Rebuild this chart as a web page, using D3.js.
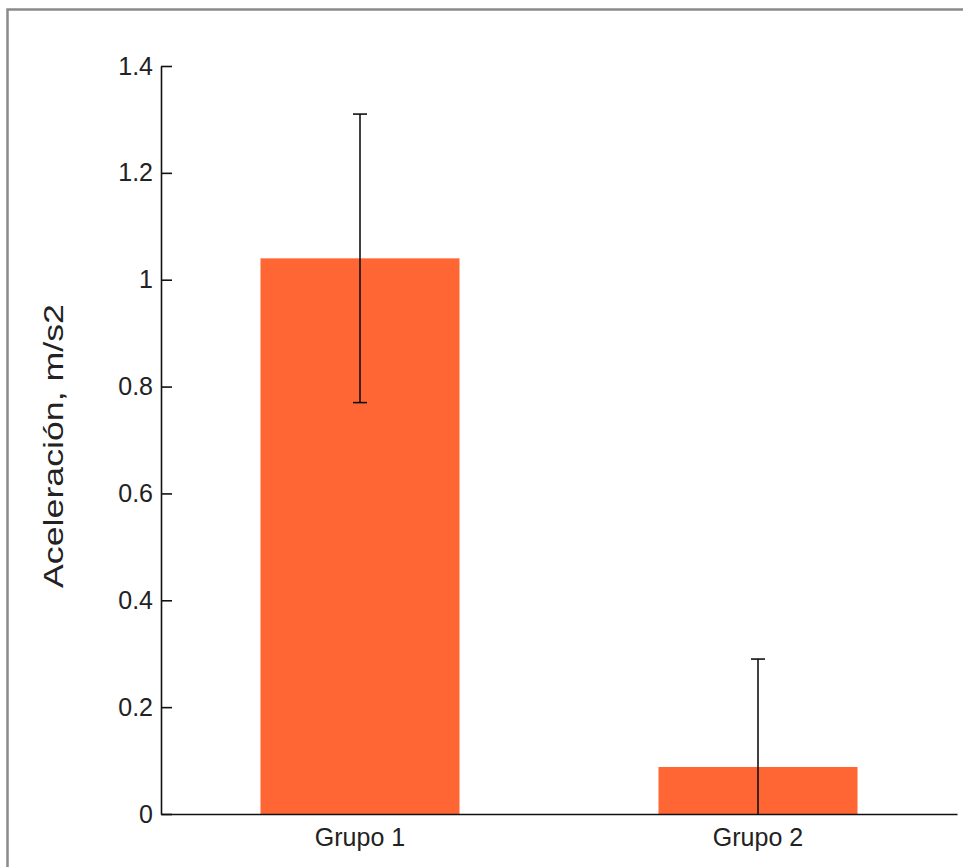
<!DOCTYPE html>
<html>
<head>
<meta charset="utf-8">
<script src="https://cdn.jsdelivr.net/npm/d3@7"></script>
<style>
  body { margin: 0; background: #fff; }
  text { font-family: Arial, "Liberation Sans", Helvetica, sans-serif; fill: #222; }
</style>
</head>
<body>
<svg id="chart"></svg>
<script>
// data
var groups = ["Grupo 1", "Grupo 2"];
var means = [1.04, 0.088];
var errLow = [0.77, 0];
var errHigh = [1.31, 0.29];
var yTicks = [0, 0.2, 0.4, 0.6, 0.8, 1, 1.2, 1.4];
var yTickLabels = ["0", "0.2", "0.4", "0.6", "0.8", "1", "1.2", "1.4"];
var yLabel = "Aceleración, m/s2";

const width = 963;
const height = 867;
const plotLeft = 161, plotRight = 957, plotTop = 66, plotBottom = 814;

var svg = d3.select("#chart")
    .attr("width", width)
    .attr("height", height);

// window frame (left + top edge only visible)
svg.append("rect")
    .attr("x", 7.5).attr("y", 9.5)
    .attr("width", width + 10).attr("height", height + 10)
    .attr("fill", "#fff")
    .attr("stroke", "#8a8a8a")
    .attr("stroke-width", 2.5);

var x = d3.scaleBand()
    .domain(groups)
    .range([plotLeft, plotRight])
    .paddingInner(0.5)
    .paddingOuter(0.25);

var y = d3.scaleLinear()
    .domain([0, 1.4])
    .range([plotBottom, plotTop]);

// bars
svg.selectAll(".bar")
    .data(groups)
    .enter().append("rect")
    .attr("class", "bar")
    .attr("x", d => x(d))
    .attr("width", x.bandwidth())
    .attr("y", (d, i) => y(means[i]))
    .attr("height", (d, i) => y(0) - y(means[i]))
    .attr("fill", "#ff6633");

// error bars
var cap = 7;
groups.forEach(function(g, i) {
    var cx = x(g) + x.bandwidth() / 2;
    var e = svg.append("g")
        .attr("stroke", "#111")
        .attr("stroke-width", 1.6);
    e.append("line")
        .attr("x1", cx).attr("x2", cx)
        .attr("y1", y(errLow[i])).attr("y2", y(errHigh[i]));
    e.append("line")
        .attr("x1", cx - cap).attr("x2", cx + cap)
        .attr("y1", y(errHigh[i])).attr("y2", y(errHigh[i]));
    if (errLow[i] > 0) {
        e.append("line")
            .attr("x1", cx - cap).attr("x2", cx + cap)
            .attr("y1", y(errLow[i])).attr("y2", y(errLow[i]));
    }
});

// y axis
var yAxis = d3.axisLeft(y)
    .tickValues(yTicks)
    .tickFormat((d, i) => yTickLabels[i])
    .tickSizeInner(-11)
    .tickSizeOuter(0)
    .tickPadding(8);

var gy = svg.append("g")
    .attr("transform", "translate(" + plotLeft + ",0)")
    .call(yAxis);
gy.select(".domain").attr("stroke", "#111").attr("stroke-width", 1.6);
gy.selectAll(".tick line").attr("stroke", "#111").attr("stroke-width", 1.6);
gy.selectAll(".tick text")
    .attr("font-size", 25)
    .attr("fill", "#222")
    .style("font-family", "Arial, 'Liberation Sans', sans-serif");

// x axis
var xAxis = d3.axisBottom(x)
    .tickSize(0)
    .tickPadding(14);
var gx = svg.append("g")
    .attr("transform", "translate(0," + plotBottom + ")")
    .call(xAxis);
gx.select(".domain").attr("stroke", "#111").attr("stroke-width", 1.6);
gx.selectAll(".tick text")
    .attr("font-size", 25)
    .attr("fill", "#222")
    .style("font-family", "Arial, 'Liberation Sans', sans-serif");

// y label
svg.append("text")
    .attr("transform", "translate(63," + ((plotTop + plotBottom) / 2 + 6) + ") rotate(-90)")
    .attr("text-anchor", "middle")
    .attr("font-size", 27)
    .attr("textLength", 284)
    .attr("lengthAdjust", "spacingAndGlyphs")
    .text(yLabel);
</script>
</body>
</html>
